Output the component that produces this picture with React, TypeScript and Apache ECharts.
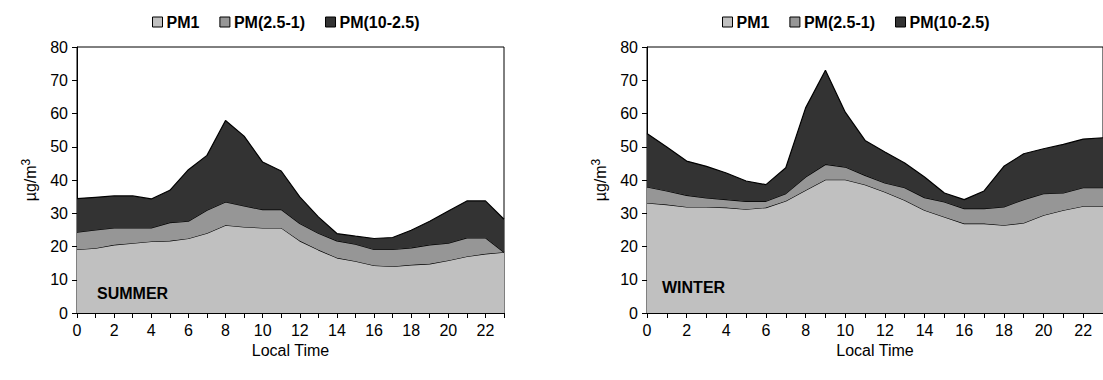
import React, { useEffect, useRef } from "react";
import * as echarts from "echarts";

// Hours of the day (category axis)
const hours: string[] = Array.from({ length: 24 }, (_, i) => String(i));

// Summer diurnal profile, µg/m³ per size fraction
const summerPM1: number[] = [19.1, 19.5, 20.5, 21.0, 21.5, 21.7, 22.4, 24.0, 26.4, 25.9, 25.6, 25.6, 21.7, 19.0, 16.6, 15.6, 14.3, 14.0, 14.5, 14.8, 15.8, 17.0, 17.8, 18.3];
const summerPM25_1: number[] = [5.2, 5.5, 5.1, 4.6, 4.1, 5.5, 5.2, 6.9, 7.0, 6.3, 5.5, 5.5, 5.2, 5.0, 5.1, 5.1, 4.8, 5.1, 5.1, 5.7, 5.2, 5.6, 4.8, 0.0];
const summerPM10_25: number[] = [10.1, 9.8, 9.6, 9.6, 8.7, 9.7, 15.5, 16.5, 24.5, 21.0, 14.3, 11.6, 8.0, 4.9, 2.2, 2.4, 3.3, 3.6, 5.3, 7.1, 9.7, 11.1, 11.1, 9.9];

// Winter diurnal profile, µg/m³ per size fraction
const winterPM1: number[] = [33.1, 32.6, 31.9, 31.9, 31.7, 31.2, 31.7, 33.7, 36.9, 40.1, 40.1, 38.6, 36.4, 33.9, 30.9, 28.9, 26.9, 26.9, 26.4, 27.1, 29.4, 30.9, 32.1, 32.1];
const winterPM25_1: number[] = [4.8, 4.1, 3.5, 2.7, 2.4, 2.4, 1.9, 2.2, 4.0, 4.6, 3.8, 2.8, 2.7, 3.8, 3.8, 4.5, 4.5, 4.5, 5.5, 7.0, 6.5, 5.2, 5.6, 5.6];
const winterPM10_25: number[] = [16.1, 13.2, 10.3, 9.5, 8.0, 6.1, 5.0, 7.8, 20.8, 28.3, 16.5, 10.5, 9.3, 7.4, 6.2, 2.7, 2.7, 5.3, 12.2, 13.8, 13.5, 14.6, 14.6, 15.0];

const fractionNames: string[] = ["PM1", "PM(2.5-1)", "PM(10-2.5)"];
const fractionColors: string[] = ["#c0c0c0", "#969696", "#333333"];
const panelLabels: string[] = ["SUMMER", "WINTER"];

const FONT = "Arial, 'Liberation Sans', Helvetica, sans-serif";

function panelSeries(values: number[][], axisIndex: number, stackId: string) {
  return values.map((vals, k) => ({
    name: fractionNames[k],
    type: "line",
    xAxisIndex: axisIndex,
    yAxisIndex: axisIndex,
    stack: stackId,
    symbol: "none",
    data: vals,
    lineStyle: { color: "#000", width: 1.2 },
    itemStyle: { color: fractionColors[k], borderColor: "#000", borderWidth: 1 },
    areaStyle: { color: fractionColors[k], opacity: 1 },
    z: 2 + k,
  }));
}

function xAxisFor(gridIndex: number) {
  return {
    type: "category",
    gridIndex,
    data: hours,
    boundaryGap: false,
    name: "Local Time",
    nameLocation: "middle",
    nameGap: 28,
    nameTextStyle: { fontFamily: FONT, fontSize: 16, color: "#000" },
    axisLine: { show: true, onZero: false, lineStyle: { color: "#000", width: 1 } },
    axisTick: { show: true, length: 5, interval: 0, lineStyle: { color: "#000" } },
    axisLabel: {
      fontFamily: FONT,
      fontSize: 16,
      color: "#000",
      margin: 9,
      interval: 1,
    },
    splitLine: { show: false },
  };
}

function yAxisFor(gridIndex: number) {
  return {
    type: "value",
    gridIndex,
    min: 0,
    max: 80,
    interval: 10,
    name: "{u|µg/m}{s|3}",
    nameLocation: "middle",
    nameGap: 37,
    nameRotate: 90,
    nameTextStyle: {
      rich: {
        u: { fontFamily: FONT, fontSize: 16, color: "#000" },
        s: { fontFamily: FONT, fontSize: 12, color: "#000", verticalAlign: "top", padding: [0, 0, 8, 0] },
      },
    },
    axisLine: { show: true, lineStyle: { color: "#000", width: 1 } },
    axisTick: { show: true, length: 5, lineStyle: { color: "#000" } },
    axisLabel: { fontFamily: FONT, fontSize: 16, color: "#000", margin: 9 },
    splitLine: { show: false },
  };
}

function legendFor(left: number) {
  return {
    left,
    top: 9,
    data: fractionNames,
    icon: "rect",
    itemWidth: 10,
    itemHeight: 10,
    itemGap: 20,
    selectedMode: false,
    itemStyle: { borderColor: "#000", borderWidth: 1 },
    textStyle: { fontFamily: FONT, fontSize: 16, fontWeight: "bold", color: "#000", padding: [0, 0, 0, -1] },
  };
}

export default function App() {
  const ref = useRef<HTMLDivElement>(null);

  useEffect(() => {
    if (!ref.current) return;
    const chart = echarts.init(ref.current, undefined, { renderer: "svg" });
    chart.setOption({
      animation: false,
      backgroundColor: "#fff",
      legend: [legendFor(147), legendFor(717)],
      grid: [
        { left: 77, top: 47, width: 427, height: 266, show: true, borderColor: "#000", borderWidth: 1, backgroundColor: "transparent" },
        { left: 647, top: 47, width: 459, height: 266, show: true, borderColor: "#000", borderWidth: 1, backgroundColor: "transparent" },
      ],
      xAxis: [xAxisFor(0), xAxisFor(1)],
      yAxis: [yAxisFor(0), yAxisFor(1)],
      series: [
        ...panelSeries([summerPM1, summerPM25_1, summerPM10_25], 0, "summer"),
        ...panelSeries([winterPM1, winterPM25_1, winterPM10_25], 1, "winter"),
      ],
      graphic: [
        { type: "text", left: 97, top: 285, z: 100, style: { text: panelLabels[0], font: `bold 16px ${FONT}`, fill: "#000" } },
        { type: "text", left: 662, top: 279, z: 100, style: { text: panelLabels[1], font: `bold 16px ${FONT}`, fill: "#000" } },
      ],
    });
    return () => chart.dispose();
  }, []);

  return (
    <div
      ref={ref}
      style={{ position: "fixed", left: 0, top: 0, width: 1103, height: 380, background: "#fff" }}
    />
  );
}
